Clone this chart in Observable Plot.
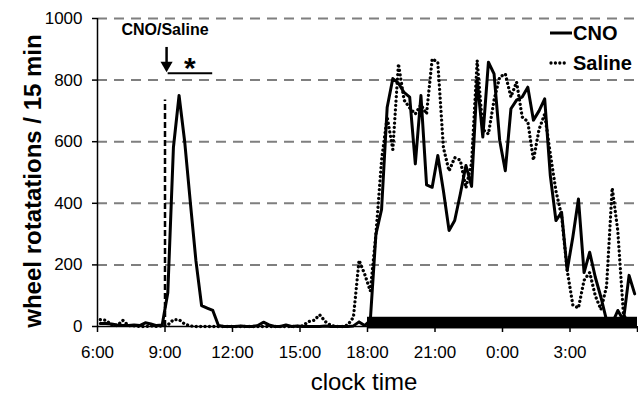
<!DOCTYPE html>
<html><head><meta charset="utf-8">
<script src="https://cdn.jsdelivr.net/npm/d3@7"></script>
<script src="https://cdn.jsdelivr.net/npm/@observablehq/plot@0.6"></script>
<style>
body{margin:0;background:#fff;}
#chart{width:638px;height:396px;}
svg{font-family:"Liberation Sans",Arial,sans-serif;overflow:visible;}
</style></head><body><div id="chart"></div>
<script>
// x positions: hours since 6:00, 15-min bins
const xTickHours = [0, 3, 6, 9, 12, 15, 18, 21, 24];
const xTickLabels = ["6:00", "9:00", "12:00", "15:00", "18:00", "21:00", "0:00", "3:00", ""];
const yTicks = [0, 200, 400, 600, 800, 1000];
const gridValues = [200, 400, 600, 800, 1000];
const seriesNames = ["CNO", "Saline"];
const cno = [
  10, 10, 8, 5, 3, 3, 5, 3, 12, 8, 3, 5,
  110, 582, 750, 600, 404, 213, 68, 60, 52, 3, 0, 0,
  0, 2, 0, 0, 3, 14, 5, 0, 0, 5, 0, 2,
  0, 0, 0, 0, 2, 0, 0, 0, 0, 2, 15, 3,
  20, 300, 380, 712, 805, 790, 760, 745, 528, 750, 460, 452,
  555, 440, 312, 344, 430, 523, 455, 800, 615, 858, 820, 604,
  506, 707, 735, 745, 777, 670, 700, 739, 490, 344, 371, 182,
  290, 414, 175, 241, 160, 95, 20, 10, 52, 20, 166, 106
];
const saline = [
  22, 20, 5, 3, 20, 3, 2, 0, 0, 2, 0, 2,
  5, 22, 22, 8, 2, 0, 0, 0, 0, 0, 0, 0,
  0, 0, 0, 0, 0, 0, 0, 0, 0, 0, 0, 0,
  2, 16, 20, 38, 16, 3, 0, 0, 5, 30, 215, 170,
  115, 300, 540, 680, 575, 853, 735, 710, 690, 720, 690, 869,
  858, 580, 505, 548, 540, 450, 530, 864, 640, 625, 735, 810,
  820, 745, 794, 680, 665, 540, 640, 690, 560, 440, 360, 182,
  70, 60, 150, 175, 100, 55, 130, 450, 310, 40, 5, 5
];
const binHours = 0.25;
const injectionHour = 3;      // 9:00
const darkPhase = [{start: 12, end: 24}]; // 18:00 - 6:00

const rows = [cno, saline].flatMap((vals, s) =>
  vals.map((v, i) => ({series: seriesNames[s], t: (i + 0.5) * binHours, v})));

const font = '"Liberation Sans", Arial, sans-serif';
const chart = Plot.plot({
  width: 638, height: 396,
  marginLeft: 97, marginRight: 1, marginTop: 18, marginBottom: 70,
  style: {fontFamily: font, color: "black", background: "white", overflow: "visible"},
  x: {domain: [0, 24]},
  y: {domain: [0, 1000]},
  marks: [
    Plot.ruleY(gridValues, {stroke: "#7f7f7f", strokeWidth: 2, strokeDasharray: "10,7"}),
    Plot.ruleX([injectionHour], {y1: 0, y2: 735, stroke: "black", strokeWidth: 2.5, strokeDasharray: "6,3"}),
    Plot.line(rows.filter(d => d.series === "Saline"), {x: "t", y: "v", stroke: "black", strokeWidth: 3.3, strokeDasharray: "0.01,4.4", strokeLinecap: "round"}),
    Plot.line(rows.filter(d => d.series === "CNO"), {x: "t", y: "v", stroke: "black", strokeWidth: 3}),
    Plot.rect(darkPhase, {x1: "start", x2: "end", y1: -8, y2: 30, fill: "black"}),
    Plot.ruleX([0], {stroke: "black", strokeWidth: 1.5}),
    Plot.ruleY([0], {stroke: "black", strokeWidth: 1.5}),
    Plot.axisY(yTicks, {tickSize: 5, tickPadding: 10, fontSize: 17, label: null, strokeWidth: 1.5,
      tickFormat: d => String(d)}),
    Plot.axisX(xTickHours, {tickSize: 6, tickPadding: 13, fontSize: 17, label: null, strokeWidth: 1.5,
      tickFormat: d => xTickLabels[xTickHours.indexOf(d)]}),
    Plot.text(["CNO/Saline"], {x: injectionHour, y: 948, text: d => d, fontWeight: "bold", fontSize: 16, lineAnchor: "bottom"}),
    Plot.ruleX([injectionHour + 0.07], {y1: 906, y2: 850, stroke: "black", strokeWidth: 2.5}),
    Plot.dot([0], {x: injectionHour + 0.07, y: 848, symbol: "triangle", rotate: 180, r: 4.5, fill: "black", stroke: "none"}),
    Plot.text(["*"], {x: 4.1, y: 808, text: d => d, fontWeight: "bold", fontSize: 30, lineAnchor: "bottom"}),
    Plot.ruleY([822], {x1: 3.14, x2: 5.12, stroke: "black", strokeWidth: 2})
  ]
});
document.getElementById("chart").appendChild(chart);

const svg = d3.select(chart);
// legend
const lg = svg.append("g").attr("font-family", font).attr("font-weight", "bold").attr("font-size", 20).attr("text-anchor", "start");
lg.append("line").attr("x1", 550).attr("x2", 572).attr("y1", 33).attr("y2", 33).attr("stroke", "black").attr("stroke-width", 3);
lg.append("text").attr("x", 573).attr("y", 40).attr("text-anchor", "start").text(seriesNames[0]);
lg.append("line").attr("x1", 551).attr("x2", 568).attr("y1", 63).attr("y2", 63).attr("stroke", "black").attr("stroke-width", 3.3)
  .attr("stroke-dasharray", "0.01,4.4").attr("stroke-linecap", "round");
lg.append("text").attr("x", 573).attr("y", 70).attr("text-anchor", "start").text(seriesNames[1]);
// axis titles
svg.append("text").attr("transform", "translate(41,181) rotate(-90)").attr("text-anchor", "middle")
  .attr("font-family", font).attr("font-weight", "bold").attr("font-size", 24).text("wheel rotatations / 15 min");
svg.append("text").attr("x", 364).attr("y", 390).attr("text-anchor", "middle")
  .attr("font-family", font).attr("font-size", 24).text("clock time");
</script></body></html>
